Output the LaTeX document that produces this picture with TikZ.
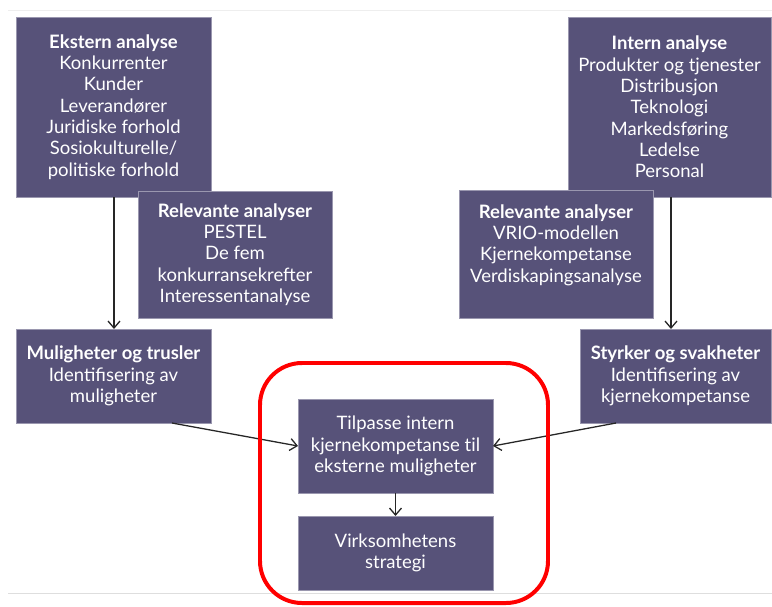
\documentclass[tikz,border=0pt]{standalone}
\usepackage{fontspec}
\setmainfont{Lato}
\usepackage{tikz}
\usetikzlibrary{positioning, arrows.meta}
\definecolor{boxCol}{RGB}{87, 82, 121}
\definecolor{ruleCol}{RGB}{222, 222, 222}
\tikzset{myBox/.style={fill=boxCol, draw=boxCol!60!white, line width=0.4pt, text=white, align=center, anchor=north west, inner sep=0pt, outer sep=0pt, font=\fontsize{18.5}{21.3}\selectfont}}
\tikzset{myArrow/.style={line width=0.45mm, color=black!85, -{Straight Barb[length=7pt, width=12pt]}}}
\tikzset{myFrame/.style={line width=1.4mm, color=red, rounded corners=42pt}}

\begin{document}
\begin{tikzpicture}[x=1pt, y=-1pt]
	\useasboundingbox (0,0) rectangle (772,606);
	\fill[white](0,0) rectangle (772,606);
	\draw[ruleCol!50!white, line width=0.3mm](8,10)--(772,10);
	\draw[ruleCol, line width=0.3mm](8,593)--(772,593);

	% analysis boxes
	\node[myBox, minimum width=195pt, minimum height=180pt] (ekstern) at (16,17) {\textbf{Ekstern analyse}\\Konkurrenter\\Kunder\\Leverandører\\Juridiske forhold\\Sosiokulturelle/\\politiske forhold};
	\node[myBox, minimum width=194pt, minimum height=127pt] (relEkstern) at (138,191) {\textbf{Relevante analyser}\\PESTEL\\De fem\\konkurransekrefter\\Interessentanalyse};
	\node[myBox, minimum width=203pt, minimum height=180pt] (intern) at (568,17) {\textbf{Intern analyse}\\Produkter og tjenester\\Distribusjon\\Teknologi\\Markedsføring\\Ledelse\\Personal};
	\node[myBox, minimum width=194pt, minimum height=128pt] (relIntern) at (459,190) {\textbf{Relevante analyser}\\VRIO-modellen\\Kjernekompetanse\\Verdiskapingsanalyse\\ \mbox{}};

	\node[myBox, minimum width=195pt, minimum height=94pt] (muligheter) at (16,329) {\textbf{Muligheter og trusler}\\Identifisering av\\muligheter};
	\node[myBox, minimum width=191pt, minimum height=94pt] (styrker) at (580,329) {\textbf{Styrker og svakheter}\\Identifisering av\\kjernekompetanse};

	\node[myBox, minimum width=195pt, minimum height=94pt] (tilpasse) at (298,399) {Tilpasse intern\\kjernekompetanse t\kern0pt il\\eksterne muligheter};
	\node[myBox, minimum width=195pt, minimum height=74pt] (strategi) at (298,516) {Virksomhetens\\strategi};

	\coordinate (mulStart) at (172,423);
	\coordinate (styStart) at (616,423);

	\draw[myArrow](ekstern.south -| 114,0) -- (muligheter.north -| 114,0);
	\draw[myArrow](intern.south -| 671,0) -- (styrker.north -| 671,0);
	\draw[myArrow](mulStart) -- (tilpasse.west);
	\draw[myArrow](styStart) -- (tilpasse.east);
	\draw[myArrow](tilpasse) -- (strategi);

	\draw[myFrame](260,363) rectangle (548,603);
\end{tikzpicture}
\end{document}
